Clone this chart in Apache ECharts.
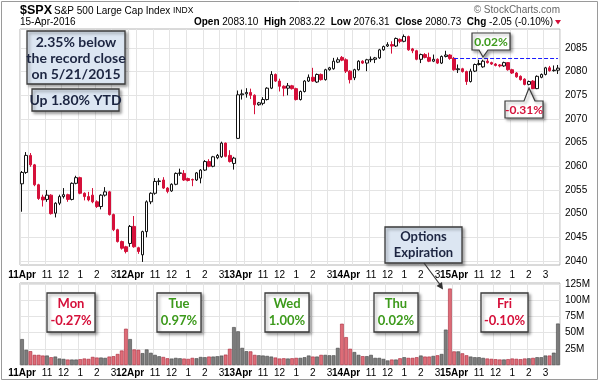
<!DOCTYPE html>
<html>
<head>
<meta charset="utf-8">
<script src="https://cdn.jsdelivr.net/npm/echarts@6/dist/echarts.min.js"></script>
<style>html,body{margin:0;padding:0;background:#fff}#c{width:600px;height:383px}</style>
</head>
<body>
<div id="c"></div>
<script>
// ---------- data ----------
const days = ['11Apr', '12Apr', '13Apr', '14Apr', '15Apr'];
const times = ['9:30','9:45','10:00','10:15','10:30','10:45','11:00','11:15','11:30','11:45','12:00','12:15','12:30','12:45','13:00','13:15','13:30','13:45','14:00','14:15','14:30','14:45','15:00','15:15','15:30','15:45'];
const hourTimes = ['11:00', '12:00', '13:00', '14:00', '15:00'];
const hourLabels = ['11', '12', '1', '2', '3'];
const gridTimes = ['9:30', '10:00', '11:00', '12:00', '13:00', '14:00', '15:00'];
const priceTicks = [2040, 2045, 2050, 2055, 2060, 2065, 2070, 2075, 2080, 2085];
const volumeTicks = [0, 25, 50, 75, 100, 125];
const volumeLabelTicks = [25, 50, 75, 100, 125];
const priorClose = 2082.78;

// [open, close, low, high] per 15-minute bar
const candlesMon = [
  [2056.3,2058.7,2050.4,2059.0],[2058.7,2062.3,2058.4,2063.0],[2062.3,2060.3,2059.9,2062.8],[2060.3,2056.1,2055.8,2060.5],
  [2056.1,2053.2,2052.9,2056.3],[2053.5,2052.9,2051.5,2054.0],[2053.0,2053.9,2052.5,2055.0],[2053.9,2050.0,2049.8,2054.1],
  [2050.1,2052.2,2049.2,2052.4],[2052.2,2053.6,2051.8,2054.0],[2053.6,2054.0,2053.2,2055.4],[2054.0,2053.0,2052.5,2054.2],
  [2053.0,2056.4,2052.8,2056.6],[2056.4,2057.6,2056.2,2058.0],[2057.6,2054.3,2054.1,2057.8],[2054.3,2053.6,2052.8,2054.5],
  [2053.6,2052.9,2052.6,2054.6],[2053.9,2052.5,2052.2,2055.4],[2052.5,2051.5,2051.2,2052.8],[2051.5,2053.9,2050.9,2054.1],
  [2053.9,2054.6,2053.6,2055.6],[2054.6,2049.8,2049.6,2054.8],[2049.8,2046.6,2046.3,2050.0],[2046.6,2044.1,2043.9,2046.8],
  [2044.1,2042.7,2042.4,2044.3],[2043.0,2041.99,2041.6,2043.2]
];
const candlesTue = [
  [2043.7,2047.3,2043.0,2047.6],[2047.3,2043.0,2042.8,2049.5],[2042.8,2042.0,2041.5,2043.0],[2041.3,2046.2,2039.8,2046.4],
  [2046.2,2052.5,2045.0,2052.8],[2052.5,2054.3,2052.0,2054.5],[2054.3,2056.8,2054.0,2057.5],[2056.8,2056.9,2056.0,2057.5],
  [2057.1,2055.4,2055.2,2057.7],[2055.4,2054.7,2054.3,2055.6],[2054.8,2056.2,2054.6,2056.4],[2056.2,2058.5,2056.0,2058.7],
  [2058.5,2058.6,2058.0,2059.5],[2058.5,2057.1,2056.9,2059.2],[2057.4,2057.0,2056.8,2057.6],[2057.2,2057.1,2055.8,2057.4],
  [2057.1,2058.6,2056.9,2058.8],[2057.5,2059.2,2056.4,2059.4],[2059.2,2061.0,2059.0,2061.3],[2061.0,2060.0,2059.8,2061.5],
  [2060.0,2062.0,2059.8,2062.2],[2061.8,2062.3,2061.5,2062.6],[2062.0,2064.9,2061.8,2065.2],[2064.9,2062.1,2061.9,2065.0],
  [2062.3,2061.0,2060.8,2063.4],[2060.6,2061.72,2059.3,2062.0]
];
const candlesWed = [
  [2065.9,2075.1,2065.8,2076.0],[2075.1,2075.3,2074.1,2076.2],[2075.3,2075.6,2074.5,2076.5],[2075.6,2075.0,2074.2,2076.4],
  [2075.0,2073.0,2071.0,2075.2],[2073.0,2073.4,2072.8,2073.6],[2073.3,2074.1,2072.9,2074.6],[2074.1,2076.5,2073.9,2076.7],
  [2076.5,2079.4,2076.3,2080.1],[2079.4,2078.0,2077.8,2079.6],[2078.0,2076.9,2075.8,2078.5],[2076.9,2076.5,2074.8,2077.1],
  [2076.5,2077.0,2075.0,2077.6],[2077.0,2076.4,2076.2,2077.2],[2076.4,2074.1,2073.9,2076.6],[2074.1,2075.8,2073.9,2076.0],
  [2075.8,2078.0,2075.6,2078.2],[2078.0,2078.8,2077.8,2079.4],[2078.8,2078.0,2077.8,2080.8],[2077.8,2079.4,2077.6,2079.6],
  [2079.4,2078.3,2078.1,2079.6],[2078.3,2080.4,2078.1,2080.6],[2080.4,2080.8,2080.2,2081.0],[2080.6,2082.2,2080.4,2082.9],
  [2082.0,2082.5,2081.8,2083.0],[2083.0,2082.42,2082.2,2083.3]
];
const candlesThu = [
  [2082.5,2080.1,2079.7,2082.8],[2080.1,2078.3,2077.5,2080.3],[2078.7,2080.4,2078.2,2080.6],[2080.4,2082.2,2080.2,2082.4],
  [2082.2,2081.8,2081.6,2082.4],[2081.8,2082.5,2080.1,2082.7],[2082.5,2082.6,2082.0,2083.2],[2082.6,2082.9,2081.8,2083.1],
  [2082.9,2084.6,2082.7,2084.8],[2084.6,2085.3,2084.4,2085.5],[2085.4,2085.7,2085.2,2086.2],[2085.7,2085.4,2083.8,2086.4],
  [2085.4,2087.0,2085.2,2087.2],[2086.8,2086.4,2086.0,2087.0],[2086.4,2087.4,2086.2,2087.84],[2087.4,2084.6,2084.4,2087.6],
  [2084.8,2084.4,2083.9,2085.0],[2084.4,2082.6,2082.4,2084.6],[2082.6,2083.6,2081.8,2083.8],[2083.6,2083.0,2082.8,2083.9],
  [2083.0,2082.2,2082.0,2084.0],[2082.2,2082.6,2082.0,2083.6],[2082.6,2081.8,2081.6,2082.8],[2081.8,2083.2,2081.6,2083.4],
  [2083.2,2083.5,2083.0,2084.4],[2083.5,2082.78,2082.5,2083.7]
];
const candlesFri = [
  [2082.8,2080.4,2080.2,2083.1],[2080.4,2080.6,2079.7,2081.5],[2080.6,2080.0,2079.8,2080.8],[2080.0,2077.9,2077.2,2080.2],
  [2077.9,2080.1,2077.7,2080.6],[2080.1,2081.5,2079.9,2081.7],[2081.5,2081.7,2081.3,2082.5],[2081.0,2082.2,2080.8,2082.5],
  [2082.2,2081.9,2081.7,2082.8],[2081.9,2081.6,2081.4,2082.1],[2081.6,2081.3,2081.1,2081.8],[2081.4,2081.2,2080.9,2081.6],
  [2081.2,2081.9,2081.0,2082.1],[2081.9,2080.4,2080.2,2082.0],[2080.4,2079.7,2079.5,2080.6],[2079.7,2078.9,2078.7,2079.9],
  [2079.0,2078.3,2078.1,2079.2],[2078.4,2077.3,2077.1,2078.6],[2077.3,2077.9,2077.1,2078.1],[2078.0,2076.4,2076.31,2078.2],
  [2076.4,2079.0,2076.3,2079.2],[2078.8,2079.4,2078.6,2079.6],[2079.4,2080.8,2079.2,2081.0],[2080.8,2080.2,2080.0,2081.2],
  [2080.2,2080.3,2080.0,2081.3],[2080.3,2080.73,2079.5,2081.4]
];
// volume in millions per bar
const volumesMon = [40,23.4,21.3,15.6,15.6,14.6,14.6,12,13,10,9.4,8.4,8.4,8.4,9,10,9.4,12.5,11.5,11.5,11,13,13.6,17,22.4,56];
const volumesTue = [40,24,23.4,18.3,24,18.8,15.6,13.5,12.4,10.4,9.9,11,10.4,9.9,9.4,11,10.4,12.4,12,13,13,13.5,14.5,16,25,58.5];
const volumesWed = [52,26.4,21.3,21,15.6,15,14.6,14,13,11.5,10,10.4,10,10.4,11,11,12,14.6,13,13,15.6,15.6,15,15,26.4,63.7];
const volumesThu = [43,25,20,15.6,13.6,13.6,15.6,11,11,9.4,7,8.4,8.4,10.4,12,11,11,12,14.6,13,13,14,15,17,54.6,118];
const volumesFri = [21,21,18,15,13,12,12,11,10,9.5,9,8.5,8.5,9,10,9.5,9,10,10.4,11,12,12,14.6,14.6,19,64];

// ---------- build ----------
const categories = [];
days.forEach(d => times.forEach(t => categories.push(d + ' ' + t)));
const candles = [].concat(candlesMon, candlesTue, candlesWed, candlesThu, candlesFri);
const volumes = [].concat(volumesMon, volumesTue, volumesWed, volumesThu, volumesFri);

const RED = '#d5103a';
const GREEN = '#3d9a1c';
const FONT = '"Liberation Sans", Arial, sans-serif';
const BOXFONT = 'Lato, "Open Sans", sans-serif';

function timeOf(v) { return v.split(' ')[1]; }
function labelShown(idx, v) { const t = timeOf(v); return t === '9:30' || hourTimes.indexOf(t) >= 0; }
function labelText(v) {
  const p = v.split(' ');
  if (p[1] === '9:30') return '{b|' + p[0] + '}';
  const k = hourTimes.indexOf(p[1]);
  return k >= 0 ? hourLabels[k] : '';
}
function gridShown(idx, v) { return gridTimes.indexOf(timeOf(v)) >= 0; }

function makeX(gi, margin) {
  return {
    type: 'category', gridIndex: gi, data: categories, boundaryGap: true,
    axisLine: { show: false }, axisTick: { show: false },
    axisLabel: {
      interval: labelShown, formatter: labelText, fontSize: 10, fontFamily: FONT, color: '#000', margin: margin,
      rich: { b: { fontWeight: 'bold', fontSize: 10, fontFamily: FONT, color: '#000' } }
    },
    splitLine: { show: true, interval: gridShown, lineStyle: { color: '#e4e4e4', width: 1 } }
  };
}

function shadowRect(x, y, w, h, fill) {
  return {
    type: 'rect', shape: { x: x, y: y, width: w, height: h },
    style: { fill: fill, stroke: '#3a3a3a', lineWidth: 1.3, shadowBlur: 3, shadowOffsetX: 2, shadowOffsetY: 2, shadowColor: 'rgba(0,0,0,0.35)' },
    z: 100
  };
}
function txt(x, y, s, color, size) {
  return {
    type: 'text', x: x, y: y, z: 101,
    style: { text: s, fill: color, font: 'bold ' + size + 'px ' + BOXFONT, align: 'center', verticalAlign: 'middle' }
  };
}
function dayBox(x, w, name, pct, color) {
  return [shadowRect(x, 293, w, 39, '#ffffff'), txt(x + w / 2, 304, name, color, 13), txt(x + w / 2, 321, pct, color, 13)];
}

const graphic = [
  { type: 'rect', shape: { x: 1.5, y: 1.5, width: 596, height: 378 }, style: { fill: 'none', stroke: '#9a9a9a', lineWidth: 1 }, z: 90 },
  // header
  { type: 'text', x: 20, y: 10.5, style: { text: '$SPX', font: 'bold 12.5px ' + FONT, fill: '#000', verticalAlign: 'middle' }, z: 100 },
  { type: 'text', x: 54, y: 11, style: { text: 'S&P 500 Large Cap Index', font: '10px ' + FONT, fill: '#000', verticalAlign: 'middle' }, z: 100 },
  { type: 'text', x: 173, y: 11, style: { text: 'INDX', font: '8.5px ' + FONT, fill: '#000', verticalAlign: 'middle' }, z: 100 },
  { type: 'text', x: 20, y: 22.5, style: { text: '15-Apr-2016', font: '10px ' + FONT, fill: '#000', verticalAlign: 'middle' }, z: 100 },
  { type: 'text', x: 553, y: 22.5, z: 100, style: {
      text: '{b|Open} 2083.10  {b|High} 2083.22  {b|Low} 2076.31  {b|Close} 2080.73  {b|Chg} -2.05 (-0.10%)',
      font: '10px ' + FONT, fill: '#000', align: 'right', verticalAlign: 'middle',
      rich: { b: { fontWeight: 'bold', fontSize: 10, fontFamily: FONT, fill: '#000' } } } },
  { type: 'polygon', shape: { points: [[555, 20], [561, 20], [558, 24.5]] }, style: { fill: RED }, z: 100 },
  { type: 'text', x: 560, y: 10, style: { text: '\u00A9 StockCharts.com', font: '10px ' + FONT, fill: '#666', align: 'right', verticalAlign: 'middle' }, z: 100 },
  // record close box
  shadowRect(27, 31, 98, 53, '#dce6f2'),
  txt(76, 42, '2.35% below', '#1c2541', 14),
  txt(76, 58, 'the record close', '#1c2541', 14),
  txt(76, 74, 'on 5/21/2015', '#1c2541', 14),
  shadowRect(32, 89, 87, 22, '#dce6f2'),
  txt(75.5, 100, 'Up 1.80% YTD', '#1c2541', 14),
  // 0.02% callout
  { type: 'polygon', shape: { points: [[472, 33], [510, 33], [510, 50], [488, 50], [483, 57], [479, 50], [472, 50]] },
    style: { fill: '#fff', stroke: '#3a3a3a', lineWidth: 1.2, shadowBlur: 3, shadowOffsetX: 2, shadowOffsetY: 2, shadowColor: 'rgba(0,0,0,0.35)' }, z: 100 },
  txt(491, 42, '0.02%', GREEN, 12),
  // -0.31% callout
  { type: 'polygon', shape: { points: [[505, 101], [524, 101], [529, 88], [535, 101], [543, 101], [543, 118], [505, 118]] },
    style: { fill: '#fff', stroke: '#3a3a3a', lineWidth: 1.2, shadowBlur: 3, shadowOffsetX: 2, shadowOffsetY: 2, shadowColor: 'rgba(0,0,0,0.35)' }, z: 100 },
  txt(524, 110, '-0.31%', RED, 12),
  // options expiration
  shadowRect(385, 227, 77, 36, '#dce6f2'),
  txt(423.5, 237, 'Options', '#1c2541', 13),
  txt(423.5, 253, 'Expiration', '#1c2541', 13),
  { type: 'polyline', shape: { points: [[424, 263], [441, 286]] }, style: { stroke: '#333', lineWidth: 1.2 }, z: 100 },
  { type: 'polygon', shape: { points: [[443, 289.5], [436.5, 286], [442, 282]] }, style: { fill: '#333' }, z: 100 }
].concat(
  dayBox(47, 48, 'Mon', '-0.27%', RED),
  dayBox(157, 44, 'Tue', '0.97%', GREEN),
  dayBox(265, 44, 'Wed', '1.00%', GREEN),
  dayBox(374, 44, 'Thu', '0.02%', GREEN),
  dayBox(481, 47, 'Fri', '-0.10%', RED)
);

const chart = echarts.init(document.getElementById('c'), null, { renderer: 'canvas' });
chart.setOption({
  animation: false,
  backgroundColor: '#fff',
  grid: [
    { left: 20, right: 40, top: 29, height: 236, show: true, borderColor: '#b4b4b4', borderWidth: 1, backgroundColor: '#fff' },
    { left: 20, right: 40, top: 283, height: 82, show: true, borderColor: '#b4b4b4', borderWidth: 1, backgroundColor: '#fff' }
  ],
  xAxis: [makeX(0, 5), makeX(1, 3)],
  yAxis: [
    { type: 'value', gridIndex: 0, position: 'right', min: 2039.15, max: 2089.0,
      axisLine: { show: false }, axisTick: { show: false, customValues: priceTicks },
      axisLabel: { customValues: priceTicks, fontSize: 10, fontFamily: FONT, color: '#000', margin: 5, formatter: v => String(v) },
      splitLine: { show: true, lineStyle: { color: '#e4e4e4' } } },
    { type: 'value', gridIndex: 1, position: 'right', min: 0, max: 126.6,
      axisLine: { show: false }, axisTick: { show: false, customValues: volumeTicks },
      axisLabel: { customValues: volumeLabelTicks, fontSize: 10, fontFamily: FONT, color: '#000', margin: 5, formatter: v => v + 'M' },
      splitLine: { show: true, lineStyle: { color: '#e4e4e4' } } }
  ],
  graphic: graphic,
  series: [
    { type: 'candlestick', xAxisIndex: 0, yAxisIndex: 0, data: candles, barWidth: '72%',
      itemStyle: { color: '#ffffff', color0: RED, borderColor: '#111', borderColor0: RED, borderWidth: 1 },
      markLine: { silent: true, symbol: 'none', label: { show: false },
        lineStyle: { color: '#1a1aff', type: 'dashed', width: 1 },
        data: [[{ xAxis: categories[104], yAxis: priorClose }, { xAxis: categories[129], yAxis: priorClose }]] } },
    { type: 'bar', xAxisIndex: 1, yAxisIndex: 1, barCategoryGap: '12%',
      data: volumes.map((v, i) => ({
        value: v,
        itemStyle: candles[i][1] >= candles[i][0]
          ? { color: '#7d7d7d', borderColor: '#444', borderWidth: 0.6 }
          : { color: '#de6d78', borderColor: '#a8283a', borderWidth: 0.6 }
      })) }
  ]
});
</script>
</body>
</html>
